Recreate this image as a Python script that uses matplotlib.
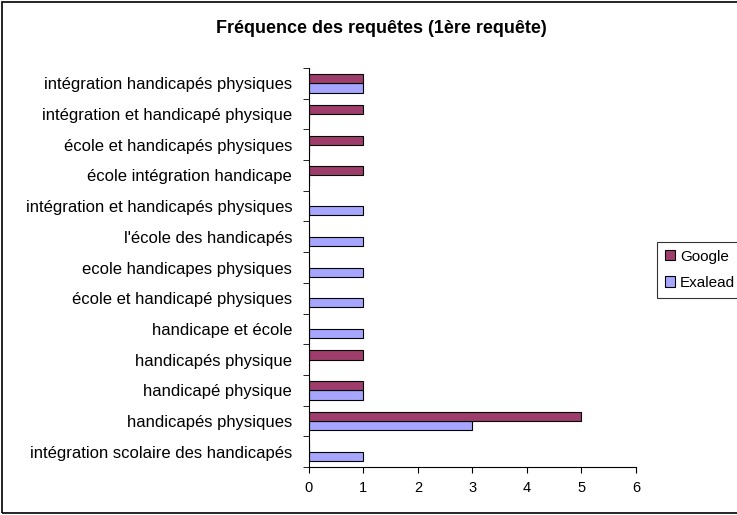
import matplotlib.pyplot as plt
import numpy as np
from matplotlib.patches import Rectangle

plt.rcParams['font.family'] = ['Liberation Sans', 'DejaVu Sans']

# categories from bottom to top
requetes = ['intégration scolaire des handicapés', 'handicapés physiques',
            'handicapé physique', 'handicapés physique', 'handicape et école',
            'école et handicapé physiques', 'ecole handicapes physiques',
            "l'école des handicapés", 'intégration et handicapés physiques',
            'école intégration handicape', 'école et handicapés physiques',
            'intégration et handicapé physique', 'intégration handicapés physiques']
google = [0, 5, 1, 1, 0, 0, 0, 0, 0, 1, 1, 1, 1]
exalead = [1, 3, 1, 0, 1, 1, 1, 1, 1, 0, 0, 0, 1]

fig = plt.figure(figsize=(7.37, 5.15), dpi=100)
ax = fig.add_axes([0.419, 0.093, 0.444, 0.775])

y = np.arange(len(requetes))
h = 0.3
ax.barh(y - h / 2, exalead, height=h, color='#A6A6FF', edgecolor='black',
        linewidth=0.8, label='Exalead')
ax.barh(y + h / 2, google, height=h, color='#9E3D6C', edgecolor='black',
        linewidth=0.8, label='Google')

ax.set_xlim(0, 6)
ax.set_ylim(-0.5, len(requetes) - 0.5)
ax.set_xticks(range(7))
ax.set_yticks(y)
ax.set_yticklabels(requetes)
ax.set_yticks(np.arange(-0.5, len(requetes), 1), minor=True)
ax.tick_params(axis='y', which='major', length=0, pad=12, labelsize=12)
ax.tick_params(axis='y', which='minor', length=4, direction='out')
ax.tick_params(axis='x', length=4, labelsize=10.5, pad=6)
ax.spines['top'].set_visible(False)
ax.spines['right'].set_visible(False)

fig.text(0.518, 0.945, 'Fréquence des requêtes (1ère requête)', ha='center',
         va='center', fontsize=13, fontweight='bold')

handles, labels = ax.get_legend_handles_labels()
leg = fig.legend(handles[::-1], labels[::-1], loc='upper left',
                 bbox_to_anchor=(657 / 737, 1 - 242 / 515), fontsize=11,
                 frameon=True, fancybox=False, handlelength=0.65,
                 handleheight=0.65, handletextpad=0.35, borderpad=0.5,
                 borderaxespad=0, labelspacing=0.8)
leg.get_frame().set_edgecolor('black')
leg.get_frame().set_linewidth(0.8)

fig.patches.append(Rectangle((0.003, 0.004), 1.2, 0.992, transform=fig.transFigure,
                             fill=False, edgecolor='black', linewidth=1.2))

fig.savefig('out.png', dpi=100)
